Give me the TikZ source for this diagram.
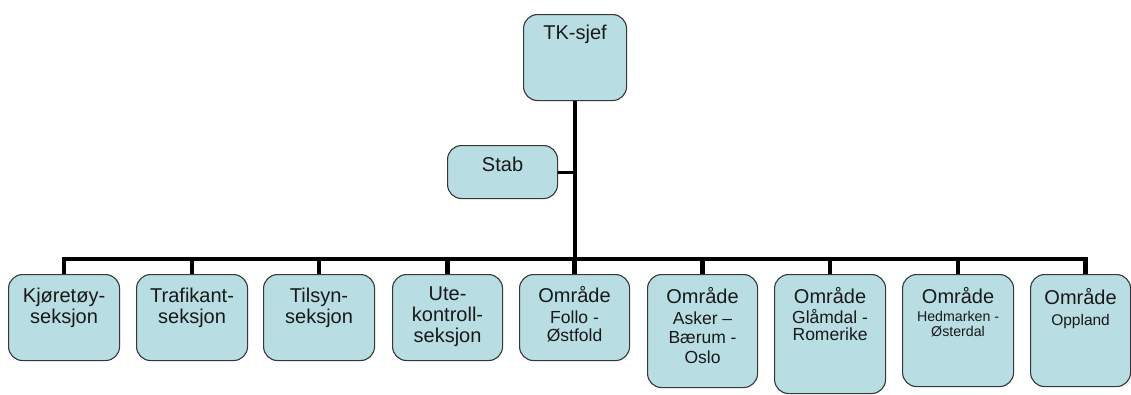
\documentclass[tikz,border=0pt]{standalone}
\usepackage{fontspec}
\setmainfont{Liberation Sans}
\definecolor{boxfill}{RGB}{184,222,228}
\definecolor{boxline}{RGB}{55,55,55}
\definecolor{txtcol}{RGB}{25,25,25}
\newcommand\subA{\fontsize{17.5}{20}\selectfont}
\newcommand\subB{\fontsize{14.2}{16}\selectfont}
\newcommand\subC{\fontsize{15.5}{18}\selectfont}
\begin{document}
\begin{tikzpicture}[x=1pt,y=-1pt,
  box/.style={draw=boxline, fill=boxfill, line width=1.1pt, rounded corners=14pt,
    anchor=north west, inner sep=0pt, minimum width=111pt, minimum height=86pt},
  txt/.style={anchor=north, inner sep=0pt, align=center,
    font=\fontsize{20}{21}\selectfont, text=txtcol},
  conn/.style={line width=4.5pt},
  stabconn/.style={line width=3pt}]
\clip (0,0) rectangle (1131,394);
\fill[white] (0,0) rectangle (1131,394);

% top
\node[box, minimum width=103pt] (tk) at (523,14) {};
\node[txt] (tkt) at ([yshift=-10.3pt]tk.north) {\strut TK-sjef};
\node[box, minimum width=110pt, minimum height=53pt] (stab) at (447,145) {};
\node[txt] (stabt) at ([yshift=-11.3pt]stab.north) {\strut Stab};

% bottom row
\node[box] (b1) at (8,274) {};
\node[box] (b2) at (136,274) {};
\node[box] (b3) at (263,274) {};
\node[box, minimum width=110pt] (b4) at (392,274) {};
\node[box, minimum width=110pt] (b5) at (519,274) {};
\node[box, minimum width=110pt, minimum height=113pt] (b6) at (647,274) {};
\node[box, minimum height=119pt] (b7) at (774,274) {};
\node[box, minimum height=112pt] (b8) at (902,274) {};
\node[box, minimum width=100pt, minimum height=112pt] (b9) at (1030,274) {};

\node[txt] (t1) at ([yshift=-13.3pt]b1.north) {\strut Kjøretøy-\\seksjon};
\node[txt] (t2) at ([yshift=-13.3pt]b2.north) {\strut Trafikant-\\seksjon};
\node[txt] (t3) at ([yshift=-13.3pt]b3.north) {\strut Tilsyn-\\seksjon};
\node[txt] (t4) at ([yshift=-11.3pt]b4.north) {\strut Ute-\\kontroll-\\seksjon};
\node[txt] (t5) at ([yshift=-12.3pt]b5.north) {\strut Område\\{\subA Follo -}\\[-3pt]{\subA Østfold}};
\node[txt] (t6) at ([yshift=-13.3pt]b6.north) {\strut Område\\{\subA Asker –}\\[-2pt]{\subA Bærum -}\\[-1pt]{\subA Oslo}};
\node[txt] (t7) at ([yshift=-13.3pt]b7.north) {\strut Område\\[-1pt]{\subA Glåmdal -}\\[-4pt]{\subA Romerike}};
\node[txt] (t8) at ([yshift=-13.3pt]b8.north) {\strut Område\\[-3pt]{\subB Hedmarken -}\\[-6pt]{\subB Østerdal}};
\node[txt] (t9) at ([yshift=-13.8pt]b9.north) {\strut Område\\{\subC Oppland}};

% connectors
\coordinate (bar) at (574,259);
\foreach \b in {b1,b2,b3,b4,b5,b6,b7,b8}
  \draw[conn] (tk.south) -- (tk.south |- bar) -| (\b.north);
\draw[conn] (tk.south) -- (tk.south |- bar) -| ([xshift=5pt]b9.north);
\draw[stabconn] (stab.east) -- (stab.east -| tk.south);
\end{tikzpicture}
\end{document}
